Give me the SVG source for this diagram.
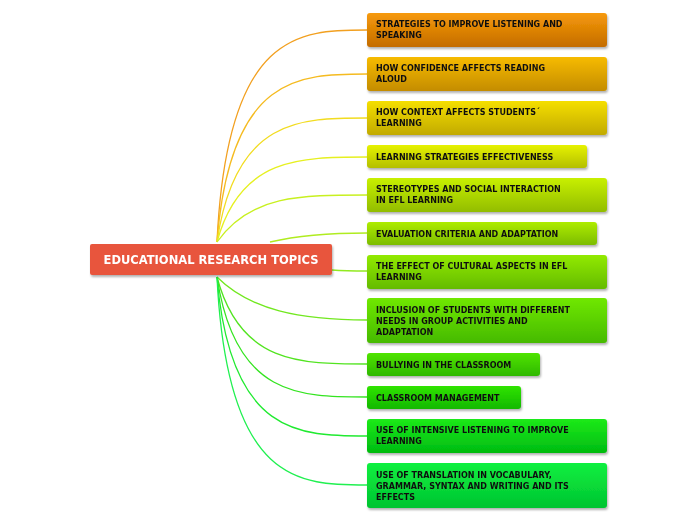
<svg xmlns="http://www.w3.org/2000/svg" width="696" height="520" viewBox="0 0 696 520">
<defs>
<filter id="sh" x="-5%" y="-20%" width="110%" height="150%"><feDropShadow dx="1" dy="2" stdDeviation="1.2" flood-color="#000" flood-opacity="0.3"/></filter>
<linearGradient id="g1" x1="0" y1="0" x2="0" y2="1"><stop offset="0" stop-color="#f79a0a"/><stop offset="1" stop-color="#c46c00"/></linearGradient>
<linearGradient id="g2" x1="0" y1="0" x2="0" y2="1"><stop offset="0" stop-color="#f7bb00"/><stop offset="1" stop-color="#c48c00"/></linearGradient>
<linearGradient id="g3" x1="0" y1="0" x2="0" y2="1"><stop offset="0" stop-color="#f5df00"/><stop offset="1" stop-color="#c2aa00"/></linearGradient>
<linearGradient id="g4" x1="0" y1="0" x2="0" y2="1"><stop offset="0" stop-color="#e6f200"/><stop offset="1" stop-color="#b4bf00"/></linearGradient>
<linearGradient id="g5" x1="0" y1="0" x2="0" y2="1"><stop offset="0" stop-color="#c8f000"/><stop offset="1" stop-color="#92bd00"/></linearGradient>
<linearGradient id="g6" x1="0" y1="0" x2="0" y2="1"><stop offset="0" stop-color="#aeec00"/><stop offset="1" stop-color="#7cbc00"/></linearGradient>
<linearGradient id="g7" x1="0" y1="0" x2="0" y2="1"><stop offset="0" stop-color="#92ea00"/><stop offset="1" stop-color="#64bb00"/></linearGradient>
<linearGradient id="g8" x1="0" y1="0" x2="0" y2="1"><stop offset="0" stop-color="#70e800"/><stop offset="1" stop-color="#46ba00"/></linearGradient>
<linearGradient id="g9" x1="0" y1="0" x2="0" y2="1"><stop offset="0" stop-color="#50e400"/><stop offset="1" stop-color="#2eb800"/></linearGradient>
<linearGradient id="g10" x1="0" y1="0" x2="0" y2="1"><stop offset="0" stop-color="#30e400"/><stop offset="1" stop-color="#12b800"/></linearGradient>
<linearGradient id="g11" x1="0" y1="0" x2="0" y2="1"><stop offset="0" stop-color="#1cea1a"/><stop offset="1" stop-color="#00bb10"/></linearGradient>
<linearGradient id="g12" x1="0" y1="0" x2="0" y2="1"><stop offset="0" stop-color="#10f040"/><stop offset="1" stop-color="#00c430"/></linearGradient>
</defs>
<style>
.n{filter:url(#sh)}
.t{font-family:"DejaVu Sans",Verdana,sans-serif;font-size:8px;font-weight:bold;fill:#111}
.c{fill:none;stroke-width:1.3}
.m{font-family:"DejaVu Sans",Verdana,sans-serif;font-size:11.5px;font-weight:bold;fill:#fff}
</style>
<rect width="696" height="520" fill="#fff"/>
<g id="connectors">
<path class="c" stroke="#f2a020" d="M217,242 C227,30 300,30 367,30"/>
<path class="c" stroke="#f5bb20" d="M217,242 C230,74 300,74 367,74"/>
<path class="c" stroke="#f2dc20" d="M217,242 C235,118 300,118 367,118"/>
<path class="c" stroke="#e6f020" d="M217,242 C240,157 300,157 367,157"/>
<path class="c" stroke="#c8f020" d="M217,242 C250,195 300,195 367,195"/>
<path class="c" stroke="#b0ec20" d="M270,242 C300,235 330,233 367,233"/>
<path class="c" stroke="#92ea20" d="M332,270 C345,271 355,271 367,271"/>
<path class="c" stroke="#72e820" d="M217,277 C250,310 300,320 367,320"/>
<path class="c" stroke="#52e420" d="M217,277 C240,364 300,364 367,364"/>
<path class="c" stroke="#34e420" d="M217,277 C235,397 300,397 367,397"/>
<path class="c" stroke="#20ea30" d="M217,277 C230,436 300,436 367,436"/>
<path class="c" stroke="#20f050" d="M217,277 C227,485 300,485 367,485"/>
</g>
<g id="root" class="n"><rect x="90" y="244" width="242" height="31" rx="2" fill="#e8553e"/><text class="m" x="211" y="264" text-anchor="middle">EDUCATIONAL RESEARCH TOPICS</text></g>
<g id="n1" class="n"><rect x="367" y="13" width="240" height="34" rx="3" fill="url(#g1)"/><text class="t" x="376" y="27">STRATEGIES TO IMPROVE LISTENING AND</text><text class="t" x="376" y="38">SPEAKING</text></g>
<g id="n2" class="n"><rect x="367" y="57" width="240" height="34" rx="3" fill="url(#g2)"/><text class="t" x="376" y="71">HOW CONFIDENCE AFFECTS READING</text><text class="t" x="376" y="82">ALOUD</text></g>
<g id="n3" class="n"><rect x="367" y="101" width="240" height="34" rx="3" fill="url(#g3)"/><text class="t" x="376" y="115">HOW CONTEXT AFFECTS STUDENTS´</text><text class="t" x="376" y="126">LEARNING</text></g>
<g id="n4" class="n"><rect x="367" y="145" width="220" height="23" rx="3" fill="url(#g4)"/><text class="t" x="376" y="160">LEARNING STRATEGIES EFFECTIVENESS</text></g>
<g id="n5" class="n"><rect x="367" y="178" width="240" height="34" rx="3" fill="url(#g5)"/><text class="t" x="376" y="192">STEREOTYPES AND SOCIAL INTERACTION</text><text class="t" x="376" y="203">IN EFL LEARNING</text></g>
<g id="n6" class="n"><rect x="367" y="222" width="230" height="23" rx="3" fill="url(#g6)"/><text class="t" x="376" y="237">EVALUATION CRITERIA AND ADAPTATION</text></g>
<g id="n7" class="n"><rect x="367" y="255" width="240" height="34" rx="3" fill="url(#g7)"/><text class="t" x="376" y="269">THE EFFECT OF CULTURAL ASPECTS IN EFL</text><text class="t" x="376" y="280">LEARNING</text></g>
<g id="n8" class="n"><rect x="367" y="298" width="240" height="45" rx="3" fill="url(#g8)"/><text class="t" x="376" y="313">INCLUSION OF STUDENTS WITH DIFFERENT</text><text class="t" x="376" y="324">NEEDS IN GROUP ACTIVITIES AND</text><text class="t" x="376" y="335">ADAPTATION</text></g>
<g id="n9" class="n"><rect x="367" y="353" width="173" height="23" rx="3" fill="url(#g9)"/><text class="t" x="376" y="368">BULLYING IN THE CLASSROOM</text></g>
<g id="n10" class="n"><rect x="367" y="386" width="154" height="23" rx="3" fill="url(#g10)"/><text class="t" x="376" y="401">CLASSROOM MANAGEMENT</text></g>
<g id="n11" class="n"><rect x="367" y="419" width="240" height="34" rx="3" fill="url(#g11)"/><text class="t" x="376" y="433">USE OF INTENSIVE LISTENING TO IMPROVE</text><text class="t" x="376" y="444">LEARNING</text></g>
<g id="n12" class="n"><rect x="367" y="463" width="240" height="45" rx="3" fill="url(#g12)"/><text class="t" x="376" y="478">USE OF TRANSLATION IN VOCABULARY,</text><text class="t" x="376" y="489">GRAMMAR, SYNTAX AND WRITING AND ITS</text><text class="t" x="376" y="500">EFFECTS</text></g>
</svg>
